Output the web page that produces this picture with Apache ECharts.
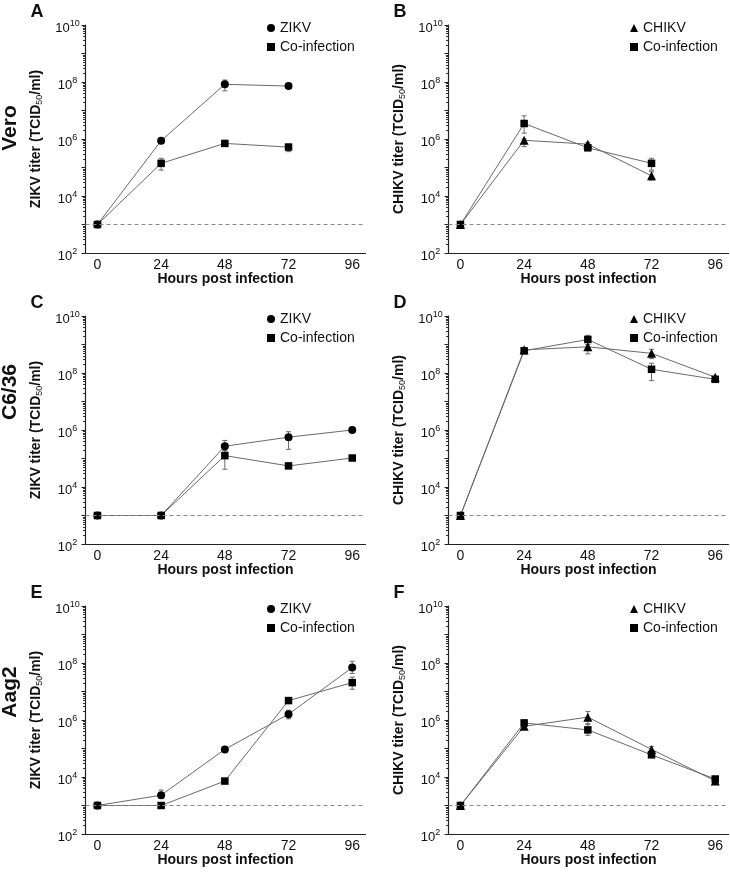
<!DOCTYPE html>
<html><head><meta charset="utf-8">
<script src="https://cdn.jsdelivr.net/npm/echarts@6/dist/echarts.min.js"></script>
<style>html,body{margin:0;padding:0;background:#fff}#c{width:730px;height:872px}</style>
</head><body><div id="c"></div>
<script>
// ---------- data ----------
const hours = [0, 24, 48, 72, 96];
const xTickValues = [0, 24, 48, 72, 96];
const yLabelExponents = [2, 4, 6, 8, 10];
const detectionLimit = 1e3;

// A: Vero, ZIKV
const veroZikv      = [1e3, 8.7e5, 8.3e7, 7.2e7, null];
const veroZikvErr   = [null, [7.6e5, 1.0e6], [4.9e7, 1.17e8], [6.6e7, 7.9e7], null];
const veroCoZ       = [1e3, 1.4e5, 7.0e5, 5.2e5, null];
const veroCoZErr    = [null, [8.1e4, 2.1e5], [6.5e5, 7.6e5], [3.6e5, 6.6e5], null];
// B: Vero, CHIKV
const veroChikv     = [1e3, 9.0e5, 6.6e5, 5.1e4, null];
const veroChikvErr  = [null, [5.4e5, 1.0e6], [5.8e5, 7.6e5], [3.6e4, 7.1e4], null];
const veroCoC       = [1e3, 3.5e6, 4.9e5, 1.4e5, null];
const veroCoCErr    = [null, [1.6e6, 6.5e6], [4.4e5, 5.6e5], [8.1e4, 2.1e5], null];
// C: C6/36, ZIKV
const c636Zikv      = [1e3, 1e3, 2.7e5, 5.6e5, 1.0e6];
const c636ZikvErr   = [null, null, [1.7e5, 4.3e5], [2.1e5, 8.7e5], null];
const c636CoZ       = [1e3, 1e3, 1.26e5, 5.5e4, 1.04e5];
const c636CoZErr    = [null, null, [4.2e4, 1.9e5], null, null];
// D: C6/36, CHIKV
const c636Chikv     = [1e3, 6.5e8, 8.3e8, 4.9e8, 7.1e7];
const c636ChikvErr  = [null, null, [4.7e8, 1.2e9], [3.2e8, 6.8e8], null];
const c636CoC       = [1e3, 6.0e8, 1.5e9, 1.35e8, 6.0e7];
const c636CoCErr    = [null, null, [1.0e9, 2.1e9], [5.4e7, 2.2e8], null];
// E: Aag2, ZIKV
const aag2Zikv      = [1e3, 2.3e3, 9.3e4, 1.6e6, 6.9e7];
const aag2ZikvErr   = [null, [1.8e3, 3.5e3], null, [1.1e6, 2.2e6], [4.3e7, 1.15e8]];
const aag2CoZ       = [1e3, 1e3, 7.2e3, 4.8e6, 2.05e7];
const aag2CoZErr    = [null, null, null, null, [1.2e7, 3.2e7]];
// F: Aag2, CHIKV
const aag2Chikv     = [1e3, 6.0e5, 1.26e6, 9.3e4, 7.3e3];
const aag2ChikvErr  = [null, null, [7.0e5, 2.0e6], [7.4e4, 1.17e5], null];
const aag2CoC       = [1e3, 7.9e5, 4.5e5, 6.0e4, 8.5e3];
const aag2CoCErr    = [null, [6.3e5, 1.0e6], [2.9e5, 7.4e5], null, [7.0e3, 1.0e4]];

const panelLetters = ['A', 'B', 'C', 'D', 'E', 'F'];
const rowLabels = ['Vero', 'C6/36', 'Aag2'];

// ---------- layout ----------
const FONT = 'Arial, "Liberation Sans", sans-serif';
const colLeft = [85.5, 448.5];
const rowTop = [25, 316, 606];
const gridW = 280, gridH = 228;

const panels = [
  {virus: 'ZIKV',  sym: 'circle',   single: veroZikv,  singleErr: veroZikvErr,  co: veroCoZ,  coErr: veroCoZErr},
  {virus: 'CHIKV', sym: 'triangle', single: veroChikv, singleErr: veroChikvErr, co: veroCoC,  coErr: veroCoCErr},
  {virus: 'ZIKV',  sym: 'circle',   single: c636Zikv,  singleErr: c636ZikvErr,  co: c636CoZ,  coErr: c636CoZErr},
  {virus: 'CHIKV', sym: 'triangle', single: c636Chikv, singleErr: c636ChikvErr, co: c636CoC,  coErr: c636CoCErr},
  {virus: 'ZIKV',  sym: 'circle',   single: aag2Zikv,  singleErr: aag2ZikvErr,  co: aag2CoZ,  coErr: aag2CoZErr},
  {virus: 'CHIKV', sym: 'triangle', single: aag2Chikv, singleErr: aag2ChikvErr, co: aag2CoC,  coErr: aag2CoCErr}
];

const minorTickPos = [];
for (let k = 2; k < 10; k++) for (let n = 2; n <= 9; n++) minorTickPos.push(k + Math.log10(n));

function pts(vals) {
  const out = [];
  vals.forEach((v, j) => { if (v != null) out.push([hours[j], v]); });
  return out;
}
function errPts(errs) {
  const out = [];
  errs.forEach((e, j) => { if (e) out.push([hours[j], e[0], e[1]]); });
  return out;
}
function renderErr(params, api) {
  const x = api.value(0);
  const pLo = api.coord([x, api.value(1)]);
  const pHi = api.coord([x, api.value(2)]);
  const cap = 2.5;
  const st = () => ({stroke: '#6a6a6a', lineWidth: 1, fill: null});
  return {type: 'group', children: [
    {type: 'line', shape: {x1: pLo[0], y1: pLo[1], x2: pHi[0], y2: pHi[1]}, style: st()},
    {type: 'line', shape: {x1: pLo[0] - cap, y1: pLo[1], x2: pLo[0] + cap, y2: pLo[1]}, style: st()},
    {type: 'line', shape: {x1: pHi[0] - cap, y1: pHi[1], x2: pHi[0] + cap, y2: pHi[1]}, style: st()}
  ]};
}

const grids = [], xAxes = [], yAxes = [], series = [], legends = [], graphics = [];

panels.forEach((p, i) => {
  const row = Math.floor(i / 2), col = i % 2;
  const left = colLeft[col], top = rowTop[row];
  grids.push({left: left, top: top, width: gridW, height: gridH, containLabel: false, outerBoundsMode: 'none'});
  xAxes.push({
    type: 'value', gridIndex: i, min: -4.5, max: 101,
    axisLine: {show: true, onZero: false, lineStyle: {color: '#222', width: 1.2}},
    axisTick: {show: false},
    splitLine: {show: false},
    axisLabel: {customValues: xTickValues, fontSize: 14, fontFamily: FONT, color: '#111', margin: 5},
    name: 'Hours post infection', nameLocation: 'middle', nameGap: 19, nameMoveOverlap: false,
    nameTextStyle: {fontSize: 14, fontWeight: 'bold', fontFamily: FONT, color: '#111', verticalAlign: 'top'}
  });
  // main log axis (decade ticks + labels)
  yAxes.push({
    type: 'log', gridIndex: i, min: 1e2, max: 1e10, logBase: 10, position: 'left',
    axisLine: {show: true, onZero: false, lineStyle: {color: '#222', width: 1.2}},
    axisTick: {show: true, length: 4, lineStyle: {color: '#222', width: 1}},
    splitLine: {show: false},
    minorTick: {show: false},
    axisLabel: {
      margin: 18, align: 'center', padding: [6, 0, 0, 0],
      formatter: function (v) {
        const e = Math.round(Math.log10(v));
        return yLabelExponents.indexOf(e) >= 0 ? '{b|10}{s|' + e + '}' : '';
      },
      rich: {
        b: {fontSize: 13, fontFamily: FONT, color: '#111', lineHeight: 13},
        s: {fontSize: 9, fontFamily: FONT, color: '#111', lineHeight: 9, padding: [0, 0, 8, 0]}
      }
    },
    name: '{b|' + p.virus + ' titer (TCID}{s|50}{b|/ml)}',
    nameLocation: 'middle', nameGap: 41, nameMoveOverlap: false,
    nameTextStyle: {
      rich: {
        b: {fontSize: 14, fontWeight: 'bold', fontFamily: FONT, color: '#111', lineHeight: 16},
        s: {fontSize: 9, fontFamily: FONT, color: '#111', lineHeight: 9, padding: [7, 0, 0, 0]}
      }
    }
  });
  // overlay axis for log minor ticks (positions in decades)
  yAxes.push({
    type: 'value', gridIndex: i, min: 2, max: 10, position: 'left', offset: 0,
    axisLine: {show: false, onZero: false}, splitLine: {show: false},
    axisLabel: {show: false},
    axisTick: {show: true, length: 2.5, customValues: minorTickPos, lineStyle: {color: '#333', width: 1}}
  });
  const yIdx = i * 2;
  series.push({
    type: 'custom', name: p.virus, xAxisIndex: i, yAxisIndex: yIdx, renderItem: renderErr,
    itemStyle: {color: '#000'},
    data: errPts(p.singleErr), z: 1, silent: true, encode: {x: 0, y: [1, 2]}
  });
  series.push({
    type: 'custom', name: 'Co-infection', xAxisIndex: i, yAxisIndex: yIdx, renderItem: renderErr,
    itemStyle: {color: '#000'},
    data: errPts(p.coErr), z: 1, silent: true, encode: {x: 0, y: [1, 2]}
  });
  series.push({
    type: 'line', name: p.virus, xAxisIndex: i, yAxisIndex: yIdx, data: pts(p.single),
    symbol: p.sym, symbolSize: p.sym === 'triangle' ? 9 : 8, showAllSymbol: true,
    itemStyle: {color: '#000'}, lineStyle: {color: '#6a6a6a', width: 1}, z: 3, animation: false,
    markLine: {
      silent: true, symbol: 'none', label: {show: false},
      lineStyle: {color: '#8a8a8a', type: [4, 3], width: 1},
      data: [{yAxis: detectionLimit}], animation: false
    }
  });
  series.push({
    type: 'line', name: 'Co-infection', xAxisIndex: i, yAxisIndex: yIdx, data: pts(p.co),
    symbol: 'rect', symbolSize: 7.5, showAllSymbol: true,
    itemStyle: {color: '#000'}, lineStyle: {color: '#6a6a6a', width: 1}, z: 3, animation: false
  });
  legends.push({
    orient: 'vertical', left: left + 176.5, top: top - 9, itemWidth: 8, itemHeight: 8, itemGap: 5,
    selectedMode: false,
    data: [
      {name: p.virus, icon: p.sym, itemStyle: {color: '#000'}},
      {name: 'Co-infection', icon: 'rect', itemStyle: {color: '#000'}}
    ],
    textStyle: {fontSize: 14, fontFamily: FONT, color: '#111'}
  });
  graphics.push({
    type: 'text', x: left - 55, y: top - 22,
    style: {text: panelLetters[i], font: 'bold 18px ' + FONT, fill: '#111', textVerticalAlign: 'top', verticalAlign: 'top'}
  });
});

const rowLabelY = [128, 392, 692];
rowLabels.forEach((t, r) => {
  graphics.push({
    type: 'text', x: 10, y: rowLabelY[r], rotation: Math.PI / 2,
    style: {text: t, font: 'bold 21px ' + FONT, fill: '#111',
      textAlign: 'center', align: 'center', textVerticalAlign: 'middle', verticalAlign: 'middle'}
  });
});

const chart = echarts.init(document.getElementById('c'), null, {renderer: 'canvas'});
chart.setOption({
  animation: false,
  backgroundColor: '#fff',
  grid: grids, xAxis: xAxes, yAxis: yAxes, series: series, legend: legends,
  graphic: {elements: graphics}
});
</script>
</body></html>
